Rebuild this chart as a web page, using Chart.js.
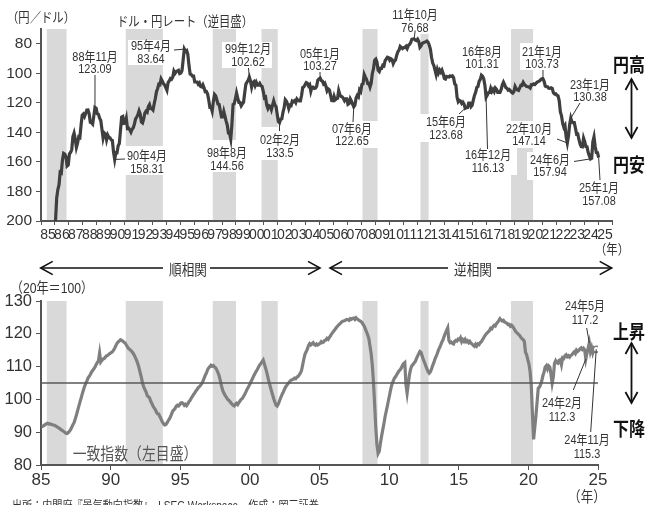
<!DOCTYPE html>
<html lang="ja">
<head>
<meta charset="utf-8">
<title>ドル・円レートと一致指数</title>
<script src="https://cdn.jsdelivr.net/npm/chart.js@4.4.1/dist/chart.umd.min.js"></script>
<style>
  html, body { margin: 0; padding: 0; background: #fff; }
  #wrap { position: relative; width: 646px; height: 505px; overflow: hidden; background: #fff;
          font-family: 'Liberation Sans', 'Noto Sans CJK JP', sans-serif; color: #333; }
  canvas { position: absolute; left: 0; }
  #fx { top: 0; }
  #ci { top: 250px; }
  .t { position: absolute; white-space: nowrap; text-align: center;
       transform: translate(-50%, -50%) scaleX(.84); }
  .note { font-size: 13px; line-height: 12.5px; }
  .note.b { line-height: 14px; }
  .big { font-size: 19px; font-weight: bold; color: #111; font-family: 'Noto Sans CJK JP', sans-serif; }
  .src { position: absolute; left: 12px; top: 496px; font-size: 12px; white-space: nowrap;
         transform: scaleX(.84); transform-origin: left top; }
</style>
</head>
<body>
<div id="wrap">
  <canvas id="fx" width="646" height="250"></canvas>
  <canvas id="ci" width="646" height="255"></canvas>

  <!-- upper panel -->
  <div class="t" style="left:41px;top:16px;font-size:13.5px">（円／ドル）</div>
  <div class="t" style="left:185px;top:20px;font-size:13.5px">ドル・円レート（逆目盛）</div>
  <div class="t note" style="left:95px;top:62.5px">88年11月<br>123.09</div>
  <div class="t note" style="left:151px;top:52px">95年4月<br>83.64</div>
  <div class="t note" style="left:248px;top:55px">99年12月<br>102.62</div>
  <div class="t note" style="left:320px;top:59.5px">05年1月<br>103.27</div>
  <div class="t note" style="left:147px;top:162px">90年4月<br>158.31</div>
  <div class="t note" style="left:226.7px;top:159px">98年8月<br>144.56</div>
  <div class="t note" style="left:280px;top:146px">02年2月<br>133.5</div>
  <div class="t note" style="left:351.7px;top:134.7px">07年6月<br>122.65</div>
  <div class="t note" style="left:415px;top:21px">11年10月<br>76.68</div>
  <div class="t note" style="left:446px;top:128px">15年6月<br>123.68</div>
  <div class="t note" style="left:481.7px;top:57.5px">16年8月<br>101.31</div>
  <div class="t note" style="left:488.3px;top:161.3px">16年12月<br>116.13</div>
  <div class="t note" style="left:541.7px;top:57.5px">21年1月<br>103.73</div>
  <div class="t note" style="left:529.3px;top:134.7px">22年10月<br>147.14</div>
  <div class="t note" style="left:590px;top:90.5px">23年1月<br>130.38</div>
  <div class="t note" style="left:550px;top:165.5px">24年6月<br>157.94</div>
  <div class="t note" style="left:599.3px;top:194px">25年1月<br>157.08</div>
  <div class="t big" style="left:629px;top:62.5px">円高</div>
  <div class="t big" style="left:629px;top:162.5px">円安</div>
  <div class="t" style="left:612px;top:248px;font-size:13.5px">（年）</div>

  <!-- lower panel -->
  <div class="t" style="left:187.5px;top:268px;font-size:15px">順相関</div>
  <div class="t" style="left:472.7px;top:268px;font-size:15px">逆相関</div>
  <div class="t" style="left:51.5px;top:286px;font-size:14.5px">（20年＝100）</div>
  <div class="t" style="left:135px;top:453px;font-size:16.5px;color:#555">一致指数（左目盛）</div>
  <div class="t note b" style="left:585px;top:313px">24年5月<br>117.2</div>
  <div class="t note b" style="left:561.7px;top:409.7px">24年2月<br>112.3</div>
  <div class="t note b" style="left:586.7px;top:447.3px">24年11月<br>115.3</div>
  <div class="t big" style="left:629px;top:330px">上昇</div>
  <div class="t big" style="left:629px;top:427px">下降</div>
  <div class="t" style="left:586.7px;top:495px;font-size:15px">（年）</div>
  <div class="src">出所：内閣府『景気動向指数』、LSEG Workspace、作成：岡三証券</div>
</div>

<script>
const firstYear = 1985;

// ドル・円 月平均 (円/ドル), 1985年1月〜2025年1月
const usdJpy = [
  254.2, 260.5, 258.4, 251.7, 251.6, 248.9, 241.7, 237.4, 236.5, 214.7, 204.1, 202.8,
  200.2, 184.6, 178.8, 175.6, 167.0, 167.5, 158.6, 154.2, 154.7, 156.5, 162.8, 162.1,
  154.5, 153.5, 151.6, 142.9, 140.5, 144.5, 150.2, 147.3, 143.0, 143.5, 135.2, 128.4,
  127.6, 129.2, 127.2, 124.9, 124.8, 127.5, 133.2, 133.5, 134.4, 129.0, 123.09, 123.6,
  127.4, 127.8, 130.4, 132.0, 137.8, 143.8, 140.4, 141.2, 145.1, 141.9, 143.5, 143.7,
  145.1, 145.5, 153.3, 158.31, 153.7, 153.8, 149.0, 147.5, 138.4, 129.6, 129.2, 133.9,
  133.7, 130.5, 137.4, 137.1, 138.2, 139.8, 137.9, 136.8, 134.3, 130.8, 129.6, 128.1,
  125.5, 127.7, 132.9, 133.6, 130.8, 126.9, 125.6, 126.3, 122.6, 121.2, 123.9, 124.0,
  124.9, 120.8, 117.1, 112.5, 110.3, 107.4, 107.7, 103.7, 105.1, 107.0, 107.8, 109.7,
  111.5, 106.3, 105.1, 103.5, 104.0, 102.7, 98.5, 100.0, 98.8, 98.4, 98.0, 100.2,
  99.8, 98.2, 90.8, 83.64, 85.1, 84.6, 87.2, 94.6, 100.5, 100.8, 101.9, 101.9,
  105.8, 105.8, 105.9, 107.4, 106.5, 108.8, 109.2, 107.8, 109.8, 112.4, 112.3, 113.9,
  117.9, 122.9, 122.8, 125.6, 119.2, 114.3, 115.2, 117.9, 120.9, 121.1, 125.4, 129.5,
  129.5, 125.9, 129.0, 132.4, 135.0, 140.4, 140.7, 144.56, 134.5, 121.1, 120.6, 117.4,
  113.3, 116.7, 119.7, 119.7, 122.0, 120.7, 119.7, 113.3, 107.4, 106.0, 104.8, 102.62,
  105.2, 109.4, 106.3, 105.6, 108.2, 106.1, 107.9, 108.0, 106.8, 108.4, 108.9, 112.2,
  116.7, 116.2, 121.5, 123.8, 122.0, 122.4, 124.6, 121.5, 118.7, 121.4, 122.4, 127.6,
  132.7, 133.5, 131.1, 130.8, 126.4, 123.3, 117.9, 118.9, 120.9, 123.9, 121.6, 121.9,
  118.8, 119.3, 118.6, 119.9, 117.4, 118.3, 118.7, 118.7, 115.0, 109.6, 109.2, 107.7,
  106.3, 106.7, 108.5, 107.7, 112.2, 109.4, 109.4, 110.2, 110.0, 108.8, 104.7, 103.8,
  103.27, 104.9, 105.3, 107.3, 106.6, 108.7, 111.9, 110.6, 111.2, 114.8, 118.5, 118.6,
  115.5, 117.9, 117.3, 117.0, 111.7, 114.5, 115.6, 115.9, 117.0, 118.6, 117.3, 117.3,
  121.0, 120.5, 117.3, 118.8, 120.8, 122.65, 121.6, 116.7, 115.0, 115.9, 111.2, 112.3,
  107.6, 107.1, 100.8, 102.6, 104.1, 106.9, 106.8, 109.3, 106.6, 100.1, 96.9, 91.2,
  90.4, 92.5, 97.9, 98.8, 96.6, 96.6, 94.5, 94.9, 91.4, 90.3, 89.1, 89.5,
  91.1, 90.1, 90.7, 93.5, 91.8, 90.9, 87.7, 85.4, 84.3, 81.8, 82.5, 83.3,
  82.6, 82.6, 81.7, 83.2, 81.2, 80.5, 79.3, 77.0, 76.8, 76.68, 77.5, 77.8,
  76.9, 78.5, 82.4, 81.4, 79.7, 79.3, 78.9, 78.7, 78.2, 78.9, 80.8, 83.6,
  89.1, 93.1, 94.8, 97.8, 101.0, 97.4, 99.7, 97.8, 99.2, 97.8, 100.1, 103.5,
  103.9, 102.1, 102.3, 102.5, 101.8, 102.1, 101.7, 102.9, 107.2, 108.0, 116.2, 119.3,
  118.3, 118.8, 120.4, 119.5, 120.8, 123.68, 123.3, 123.2, 120.1, 120.1, 122.6, 121.6,
  118.2, 115.0, 112.9, 109.6, 109.0, 105.5, 104.1, 101.31, 102.0, 103.8, 108.2, 116.13,
  114.8, 113.1, 113.0, 110.1, 112.3, 110.9, 112.4, 109.9, 110.8, 112.9, 112.8, 112.9,
  110.9, 107.8, 106.0, 107.6, 109.7, 110.1, 111.4, 111.0, 111.9, 112.8, 113.4, 112.4,
  108.9, 110.4, 111.2, 111.6, 109.9, 108.1, 108.2, 106.2, 107.5, 108.3, 108.9, 109.1,
  109.3, 110.0, 107.7, 107.8, 107.2, 107.6, 106.8, 106.0, 105.6, 105.2, 104.4, 103.8,
  103.73, 105.4, 108.7, 109.1, 109.1, 110.1, 110.2, 109.8, 110.2, 113.1, 114.0, 113.8,
  114.8, 115.2, 118.5, 126.2, 128.8, 133.9, 136.6, 135.3, 143.1, 147.14, 142.4, 134.8,
  130.38, 133.0, 133.4, 133.4, 137.1, 141.2, 141.1, 144.8, 147.9, 149.6, 149.8, 143.9,
  146.3, 149.6, 149.8, 153.6, 155.9, 157.94, 157.5, 146.3, 143.0, 149.6, 153.7, 153.8,
  157.08
];

// 景気動向指数 一致指数 (2020年=100), 1985年1月〜2024年11月
const ciIndex = [
  91.7, 91.8, 92.0, 92.3, 92.5, 92.7, 92.5, 92.6, 92.4, 92.3, 92.2, 92.1,
  91.9, 91.7, 91.5, 91.2, 91.0, 90.7, 90.5, 90.2, 90.0, 89.7, 89.6, 89.9,
  90.3, 90.8, 91.5, 92.3, 92.9, 94.0, 95.2, 96.5, 97.8, 99.1, 100.3, 101.6,
  102.8, 103.9, 104.8, 105.6, 106.5, 107.0, 107.6, 108.3, 108.8, 109.3, 109.8, 110.6,
  111.2, 111.8, 114.1, 111.4, 111.9, 112.3, 112.5, 112.9, 113.3, 113.4, 113.8, 114.0,
  114.3, 114.5, 115.0, 115.6, 116.4, 117.1, 117.5, 117.8, 118.2, 118.0, 117.8, 117.4,
  117.2, 116.6, 116.0, 115.5, 115.2, 114.9, 114.5, 114.0, 113.4, 112.6, 111.8, 110.8,
  109.6, 108.1, 106.7, 105.0, 103.8, 103.0, 102.3, 101.2, 100.8, 100.5, 99.5, 98.8,
  98.0, 97.4, 96.9, 96.1, 95.6, 95.5, 94.7, 94.0, 93.2, 92.6, 92.2, 92.3,
  92.8, 93.4, 94.0, 94.6, 95.5, 96.4, 96.8, 97.2, 97.9, 98.2, 98.0, 98.4,
  98.9, 99.0, 98.7, 98.2, 98.5, 98.1, 98.6, 99.3, 99.7, 100.4, 100.9, 101.5,
  102.0, 102.6, 103.0, 103.6, 103.9, 104.3, 104.8, 105.5, 106.4, 107.3, 108.0, 109.0,
  109.6, 110.0, 110.4, 110.1, 110.3, 109.9, 109.6, 109.0, 108.2, 107.2, 105.8, 104.2,
  102.8, 102.0, 101.3, 100.8, 100.2, 99.8, 99.5, 99.0, 98.6, 98.2, 98.0, 98.5,
  98.8, 98.4, 99.0, 99.5, 100.0, 100.3, 100.9, 101.5, 102.2, 103.0, 103.6, 104.3,
  105.0, 105.8, 106.5, 107.3, 108.0, 108.6, 109.2, 109.9, 110.5, 111.0, 111.5, 112.0,
  110.8, 109.6, 108.3, 106.8, 105.3, 104.0, 102.7, 101.5, 100.3, 99.2, 98.3, 98.0,
  98.6, 99.5, 100.5, 101.3, 102.0, 102.8, 103.6, 104.2, 104.6, 105.1, 105.5, 105.9,
  106.0, 106.2, 106.5, 106.3, 106.8, 107.0, 107.5, 108.0, 108.8, 110.5, 112.3, 113.8,
  114.5, 115.3, 116.4, 117.0, 116.6, 117.0, 117.3, 116.7, 116.5, 116.9, 116.6, 116.8,
  117.1, 117.6, 117.3, 117.5, 118.0, 118.1, 118.6, 118.3, 118.9, 119.4, 120.0, 120.5,
  120.9, 121.4, 121.9, 122.3, 122.7, 123.0, 123.4, 123.7, 123.9, 124.0, 124.2, 124.4,
  124.3, 124.1, 124.6, 124.4, 124.7, 124.8, 124.4, 124.9, 124.5, 124.3, 124.0, 123.8,
  123.5, 122.9, 122.4, 121.5, 120.6, 119.7, 118.6, 116.3, 114.0, 110.5, 105.3, 98.6,
  91.5, 86.2, 83.5, 84.2, 86.6, 88.8, 90.7, 92.6, 94.7, 96.4, 98.0, 99.8,
  101.5, 103.3, 104.7, 105.6, 106.4, 106.9, 107.5, 108.1, 108.7, 109.0, 109.6, 110.4,
  110.9, 111.2, 104.5, 101.9, 104.6, 107.5, 109.2, 110.2, 110.6, 111.1, 111.5, 112.4,
  113.2, 113.9, 114.6, 114.3, 113.2, 112.1, 111.3, 110.3, 109.4, 108.5, 108.0, 108.4,
  109.2, 110.3, 111.2, 112.3, 113.1, 114.0, 115.0, 115.8, 116.6, 117.5, 118.2, 119.3,
  120.2, 121.0, 121.8, 118.0, 117.3, 117.5, 117.1, 116.9, 117.7, 118.0, 117.8, 118.4,
  118.2, 118.8, 117.6, 118.2, 117.7, 118.3, 117.6, 117.9, 117.3, 117.7, 117.1, 116.9,
  116.5, 116.2, 116.8, 116.3, 116.9, 116.7, 117.3, 117.6, 118.2, 118.8, 119.4, 119.9,
  120.3, 120.6, 121.0, 121.7, 121.5, 122.2, 122.6, 122.4, 123.1, 123.5, 124.0, 124.6,
  124.2, 123.9, 124.1, 123.6, 123.4, 123.2, 122.8, 122.9, 122.3, 122.6, 122.2, 121.7,
  121.0, 120.5, 120.2, 119.8, 119.5, 118.9, 118.5, 118.2, 117.7, 114.4, 113.6, 112.1,
  110.8, 108.4, 104.2, 95.6, 87.8, 91.3, 95.0, 99.2, 103.4, 103.7, 104.5, 105.6,
  107.2, 108.3, 109.9, 110.3, 109.3, 110.2, 109.8, 107.6, 104.9, 106.8, 111.0, 111.8,
  111.2, 111.0, 111.9, 112.1, 110.6, 112.7, 112.5, 113.3, 113.6, 113.0, 113.3, 112.9,
  113.4, 113.6, 114.1, 114.5, 114.0, 115.0, 114.6, 114.9, 115.4, 115.7, 115.2, 115.6,
  115.1, 112.3, 114.1, 115.6, 117.2, 114.6, 115.8, 114.2, 115.4, 114.8, 115.3
];

// 景気後退期 (山〜谷)
const recessions = [
  ['1985-06', '1986-11'], ['1991-02', '1993-10'], ['1997-05', '1999-01'],
  ['2000-11', '2002-01'], ['2008-02', '2009-03'], ['2012-04', '2012-11'],
  ['2018-10', '2020-05']
];

const fxTicks = [80, 100, 120, 140, 160, 180, 200];
const ciTicks = [80, 90, 100, 110, 120, 130];
const ciYears = [1985, 1990, 1995, 2000, 2005, 2010, 2015, 2020, 2025];
const ciBase = 105;

// helpers
const ym = s => { const [y, m] = s.split('-').map(Number); return y + (m - 1) / 12; };
const idx = s => { const [y, m] = s.split('-').map(Number); return (y - firstYear) * 12 + m - 1; };
const toPoints = arr => arr.map((v, i) => ({ x: firstYear + (i + 0.5) / 12, y: v }));
const yy = v => String(Math.floor(v) % 100).padStart(2, '0');

const tickFont = "'Liberation Sans Narrow', 'Liberation Sans', Arial, sans-serif";
const axisGray = '#555';

function arrow(ctx, x0, y0, x1, y1, atStart, atEnd, len, half) {
  ctx.beginPath(); ctx.moveTo(x0, y0); ctx.lineTo(x1, y1); ctx.stroke();
  const head = (tx, ty, fx, fy) => {
    const a = Math.atan2(ty - fy, tx - fx);
    const bx = tx - len * Math.cos(a), by = ty - len * Math.sin(a);
    const nx = -Math.sin(a) * half, ny = Math.cos(a) * half;
    ctx.beginPath();
    ctx.moveTo(bx + nx, by + ny); ctx.lineTo(tx, ty); ctx.lineTo(bx - nx, by - ny);
    ctx.stroke();
  };
  if (atStart) head(x0, y0, x1, y1);
  if (atEnd) head(x1, y1, x0, y0);
}

// recession shading + white patches behind labels
const shade = {
  id: 'shade',
  beforeDraw(chart, args, opts) {
    const { ctx, chartArea: a, scales: { x } } = chart;
    ctx.save();
    ctx.fillStyle = '#d9d9d9';
    recessions.forEach(([s, e]) => {
      const x0 = x.getPixelForValue(ym(s)), x1 = x.getPixelForValue(ym(e));
      ctx.fillRect(x0, a.top, x1 - x0, a.bottom - a.top - 1);
    });
    ctx.fillStyle = '#fff';
    (opts.gaps || []).forEach(([l, t, r, b]) => ctx.fillRect(l, t, r - l, b - t));
    ctx.restore();
  }
};

// leader lines to labelled months, and the direction arrows
const marks = {
  id: 'marks',
  afterDatasetsDraw(chart, args, opts) {
    const { ctx, scales: { x, y } } = chart;
    const pts = chart.data.datasets[0].data;
    ctx.save();
    ctx.strokeStyle = '#333';
    ctx.lineWidth = 1;
    (opts.leaders || []).forEach(([lx, ly, when]) => {
      const p = pts[idx(when)];
      ctx.beginPath();
      ctx.moveTo(lx, ly);
      ctx.lineTo(x.getPixelForValue(p.x), y.getPixelForValue(p.y));
      ctx.stroke();
    });
    ctx.strokeStyle = '#111';
    (opts.arrows || []).forEach(a => {
      ctx.lineWidth = a[7];
      arrow(ctx, a[0], a[1], a[2], a[3], a[4], a[5], a[6], a[6] * 0.55);
    });
    ctx.restore();
  }
};

Chart.register(shade, marks);

// upper panel: dollar-yen, inverted scale
new Chart(document.getElementById('fx'), {
  type: 'line',
  data: {
    datasets: [{
      data: toPoints(usdJpy),
      borderColor: '#3f3f3f',
      borderWidth: 3.2,
      pointRadius: 0,
      tension: 0
    }]
  },
  options: {
    responsive: false,
    animation: false,
    events: [],
    layout: { padding: { left: 0, top: 29, right: 34, bottom: 0 } },
    plugins: {
      legend: { display: false },
      tooltip: { enabled: false },
      shade: {
        gaps: [
          [128, 40, 174, 65], [222, 42, 272, 68], [124, 146, 164, 175], [212, 140, 237, 172],
          [260, 127, 279, 160], [328, 121, 380, 148], [405, 8, 432, 34], [419, 114, 468, 142],
          [460, 147, 517, 175], [520, 43, 562, 70], [505, 121, 541, 148], [527, 152, 572, 180]
        ]
      },
      marks: {
        leaders: [
          [95, 75, '1988-11'], [174, 50, '1995-04'], [248.5, 68, '1999-12'], [320, 72, '2005-01'],
          [125, 159, '1990-04'], [230.5, 141, '1998-08'], [279.5, 131, '2002-02'], [353, 122, '2007-06'],
          [415, 32, '2011-10'], [459, 114, '2015-06'], [487.5, 149, '2016-12'], [543, 70, '2021-01'],
          [557, 139, '2022-10'], [580, 103, '2023-01'], [574, 161.5, '2024-06'], [600, 180, '2025-01']
        ],
        arrows: [[631.5, 79, 631.5, 138, true, true, 11, 1.8]]
      }
    },
    scales: {
      x: {
        type: 'linear', min: 1985, max: 2026,
        afterBuildTicks: s => {
          s.ticks = [];
          for (let v = 1985; v <= 2026; v += 0.5) s.ticks.push({ value: v });
        },
        afterFit: s => { s.height = 29; },
        ticks: {
          autoSkip: false, maxRotation: 0, minRotation: 0, padding: 2, color: '#333',
          font: { size: 14, family: tickFont },
          callback: v => (v % 1 ? yy(v) : '')
        },
        grid: {
          drawOnChartArea: false, tickLength: 4,
          tickColor: c => (c.tick && c.tick.value % 1 ? 'rgba(0,0,0,0)' : axisGray)
        },
        border: { color: axisGray, width: 2 }
      },
      y: {
        reverse: true, min: 70, max: 200,
        afterBuildTicks: s => { s.ticks = fxTicks.map(v => ({ value: v })); },
        afterFit: s => { s.width = 41; },
        ticks: { padding: 4, color: '#333', font: { size: 15.5, family: tickFont } },
        grid: { drawOnChartArea: false, tickLength: 5, tickColor: axisGray },
        border: { color: axisGray, width: 2 }
      }
    }
  }
});

// lower panel: coincident index
const lastCi = ciIndex.length - 1;
new Chart(document.getElementById('ci'), {
  type: 'line',
  data: {
    datasets: [{
      data: toPoints(ciIndex),
      borderColor: '#7f7f7f',
      borderWidth: 3.2,
      pointRadius: c => (c.dataIndex === lastCi ? 3 : 0),
      pointBackgroundColor: '#fff',
      pointBorderColor: '#7f7f7f',
      pointBorderWidth: 1.5,
      tension: 0,
      order: 1
    }, {
      data: [{ x: 1985, y: ciBase }, { x: 2025, y: ciBase }],
      borderColor: '#595959',
      borderWidth: 1.5,
      pointRadius: 0,
      order: 0
    }]
  },
  options: {
    responsive: false,
    animation: false,
    events: [],
    layout: { padding: { left: 0, top: 51, right: 48, bottom: 0 } },
    plugins: {
      legend: { display: false },
      tooltip: { enabled: false },
      marks: {
        leaders: [[586.7, 78, '2024-05'], [573.3, 140, '2024-02'], [590.7, 182, '2024-11']],
        arrows: [
          [40.7, 18, 163, 18, true, false, 12, 1.6],
          [210, 18, 320, 18, false, true, 12, 1.6],
          [330, 18, 448, 18, true, false, 12, 1.6],
          [497, 18, 611.7, 18, false, true, 12, 1.6],
          [631.5, 93, 631.5, 153, true, true, 11, 1.8]
        ]
      }
    },
    scales: {
      x: {
        type: 'linear', min: 1985, max: 2025,
        afterBuildTicks: s => { s.ticks = ciYears.map(v => ({ value: v })); },
        afterFit: s => { s.height = 40; },
        ticks: {
          autoSkip: false, maxRotation: 0, minRotation: 0, padding: 0, color: '#333',
          font: { size: 17, family: tickFont },
          callback: v => yy(v)
        },
        grid: { drawOnChartArea: false, tickLength: 5, tickColor: axisGray },
        border: { color: axisGray, width: 2 }
      },
      y: {
        min: 80, max: 130,
        afterBuildTicks: s => { s.ticks = ciTicks.map(v => ({ value: v })); },
        afterFit: s => { s.width = 41; },
        ticks: { padding: 4, color: '#333', font: { size: 16.5, family: tickFont } },
        grid: { drawOnChartArea: false, tickLength: 5, tickColor: axisGray },
        border: { color: axisGray, width: 2 }
      }
    }
  }
});
</script>
</body>
</html>
